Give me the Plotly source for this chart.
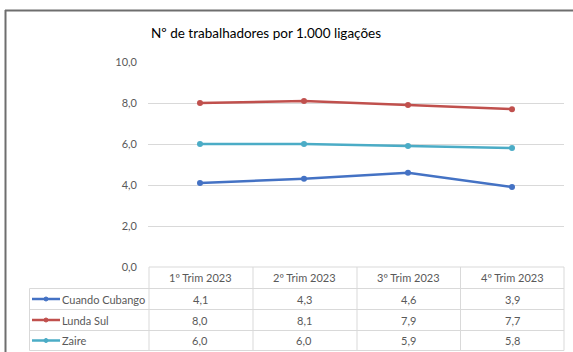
import plotly.graph_objects as go

# Data
quarters = ["1º Trim 2023", "2º Trim 2023", "3º Trim 2023", "4º Trim 2023"]
series_names = ["Cuando Cubango", "Lunda Sul", "Zaire"]
cuando_cubango = [4.1, 4.3, 4.6, 3.9]
lunda_sul = [8.0, 8.1, 7.9, 7.7]
zaire = [6.0, 6.0, 5.9, 5.8]
colors = ["#4472C4", "#C0504D", "#4BACC6"]
title_text = "Nº de trabalhadores por 1.000 ligações"

series_values = [cuando_cubango, lunda_sul, zaire]

W, H = 573, 352
PL, PR, PT, PB = 148, 564, 62, 267  # plot area in pixels
FONT = "Lato"
TXT = "#595959"
GRID = "#D9D9D9"


def px(x):
    return (x - PL) / (PR - PL)


def py(y):
    return (PB - y) / (PB - PT)


fig = go.Figure()
xs = list(range(len(quarters)))
for name, vals, col in zip(series_names, series_values, colors):
    fig.add_trace(go.Scatter(
        x=xs, y=vals, name=name, mode="lines+markers",
        line=dict(color=col, width=2.5),
        marker=dict(color=col, size=6),
        showlegend=False, cliponaxis=False,
    ))

shapes = []
annotations = []

# Outer frame (top and left edges)
shapes.append(dict(type="line", xref="paper", yref="paper",
                   x0=px(5), x1=px(580), y0=py(10.5), y1=py(10.5),
                   line=dict(color="#6E6E6E", width=2)))
shapes.append(dict(type="line", xref="paper", yref="paper",
                   x0=px(5.5), x1=px(5.5), y0=py(10), y1=py(360),
                   line=dict(color="#6E6E6E", width=2)))

# Data table grid
row_edges = [267, 288.5, 309.5, 330.5, 350.5]
col_edges = [149, 253, 357, 460.5, 564]
legend_left = 29.5
shapes.append(dict(type="line", xref="paper", yref="paper",
                   x0=px(col_edges[0]), x1=px(col_edges[-1]),
                   y0=py(row_edges[0]), y1=py(row_edges[0]),
                   line=dict(color=GRID, width=1)))
for r in row_edges[1:]:
    shapes.append(dict(type="line", xref="paper", yref="paper",
                       x0=px(legend_left), x1=px(col_edges[-1]),
                       y0=py(r), y1=py(r), line=dict(color=GRID, width=1)))
for c in col_edges:
    shapes.append(dict(type="line", xref="paper", yref="paper",
                       x0=px(c), x1=px(c), y0=py(row_edges[0]), y1=py(row_edges[-1]),
                       line=dict(color=GRID, width=1)))
shapes.append(dict(type="line", xref="paper", yref="paper",
                   x0=px(legend_left), x1=px(legend_left),
                   y0=py(row_edges[1]), y1=py(row_edges[-1]),
                   line=dict(color=GRID, width=1)))

cell_font = dict(family=FONT, size=11, color=TXT)

# Header row
for i, q in enumerate(quarters):
    annotations.append(dict(x=i, xref="x", y=py((row_edges[0] + row_edges[1]) / 2),
                            yref="paper", text=q, showarrow=False,
                            xanchor="center", yanchor="middle", font=cell_font))

# Series rows with legend keys
for k, (name, vals, col) in enumerate(zip(series_names, series_values, colors)):
    yc = py((row_edges[k + 1] + row_edges[k + 2]) / 2)
    shapes.append(dict(type="line", xref="paper", yref="paper",
                       x0=px(32), x1=px(60), y0=yc, y1=yc,
                       line=dict(color=col, width=2.5)))
    shapes.append(dict(type="circle", xref="paper", yref="paper",
                       x0=px(44), x1=px(48), y0=yc - 2 / (PB - PT), y1=yc + 2 / (PB - PT),
                       fillcolor=col, line=dict(color=col, width=1)))
    annotations.append(dict(x=px(60), xref="paper", y=yc, yref="paper",
                            text=name, showarrow=False, xanchor="left",
                            yanchor="middle", font=cell_font))
    for i, v in enumerate(vals):
        annotations.append(dict(x=i, xref="x", y=yc, yref="paper",
                                text=f"{v:.1f}".replace(".", ","), showarrow=False,
                                xanchor="center", yanchor="middle", font=cell_font))

# Title
annotations.append(dict(x=px(266), xref="paper", y=py(33), yref="paper",
                        text=title_text, showarrow=False,
                        xanchor="center", yanchor="middle",
                        font=dict(family=FONT, size=13.5, color="#000000")))

fig.update_layout(
    width=W, height=H,
    margin=dict(l=PL, r=W - PR, t=PT, b=H - PB, pad=0),
    paper_bgcolor="white", plot_bgcolor="white",
    separators=",.",
    xaxis=dict(range=[-0.5, 3.5], showticklabels=False, showgrid=False,
               zeroline=False, showline=False, fixedrange=True),
    yaxis=dict(range=[0, 10], dtick=2, tickformat=".1f", showgrid=True,
               gridcolor=GRID, gridwidth=1, zeroline=False, showline=False,
               ticks="", ticklabelstandoff=10,
               tickfont=dict(family=FONT, size=11, color=TXT)),
    shapes=shapes, annotations=annotations,
)

fig.write_html("out.html")
